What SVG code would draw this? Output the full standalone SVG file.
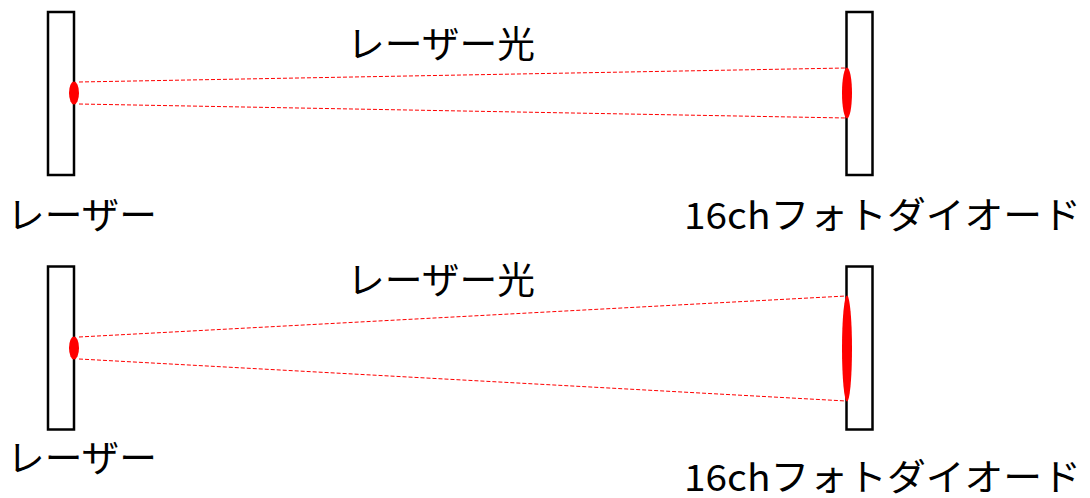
<svg xmlns="http://www.w3.org/2000/svg" width="1090" height="498" viewBox="0 0 1090 498">
<style>
.box{fill:#fff;stroke:#000;stroke-width:2.5}
.spot{fill:#f00;stroke:none}
.beam{stroke:#f00;stroke-width:1;stroke-dasharray:4 2;fill:none}
.t{font-family:"Noto Sans CJK JP","Noto Sans",sans-serif;font-size:37px;fill:#000}
</style>
<rect width="1090" height="498" fill="#fff"/>
<g id="connectors">
<line class="beam" x1="79" y1="82" x2="846" y2="68"/>
<line class="beam" x1="79" y1="104" x2="846" y2="118"/>
<line class="beam" x1="79" y1="337" x2="846" y2="296"/>
<line class="beam" x1="79" y1="359" x2="846" y2="401"/>
</g>
<g id="laser1">
<rect class="box" x="48" y="12" width="26" height="163"/>
<ellipse class="spot" cx="74" cy="93" rx="5" ry="11.5"/>
<text class="t" x="7" y="229" textLength="150" lengthAdjust="spacingAndGlyphs">レーザー</text>
</g>
<g id="pd1">
<rect class="box" x="846.5" y="12" width="26" height="163"/>
<ellipse class="spot" cx="847" cy="93" rx="5" ry="25.5"/>
<text class="t" x="684" y="229" textLength="397" lengthAdjust="spacingAndGlyphs">16chフォトダイオード</text>
</g>
<g id="beam1">
<text class="t" x="347" y="58" textLength="188" lengthAdjust="spacingAndGlyphs">レーザー光</text>
</g>
<g id="laser2">
<rect class="box" x="48" y="266.5" width="26" height="163"/>
<ellipse class="spot" cx="74" cy="348" rx="5" ry="11.5"/>
<text class="t" x="7" y="472" textLength="150" lengthAdjust="spacingAndGlyphs">レーザー</text>
</g>
<g id="pd2">
<rect class="box" x="846.5" y="266.5" width="26" height="163"/>
<ellipse class="spot" cx="847" cy="348.5" rx="5" ry="53"/>
<text class="t" x="684" y="491" textLength="397" lengthAdjust="spacingAndGlyphs">16chフォトダイオード</text>
</g>
<g id="beam2">
<text class="t" x="347" y="294" textLength="188" lengthAdjust="spacingAndGlyphs">レーザー光</text>
</g>
</svg>
